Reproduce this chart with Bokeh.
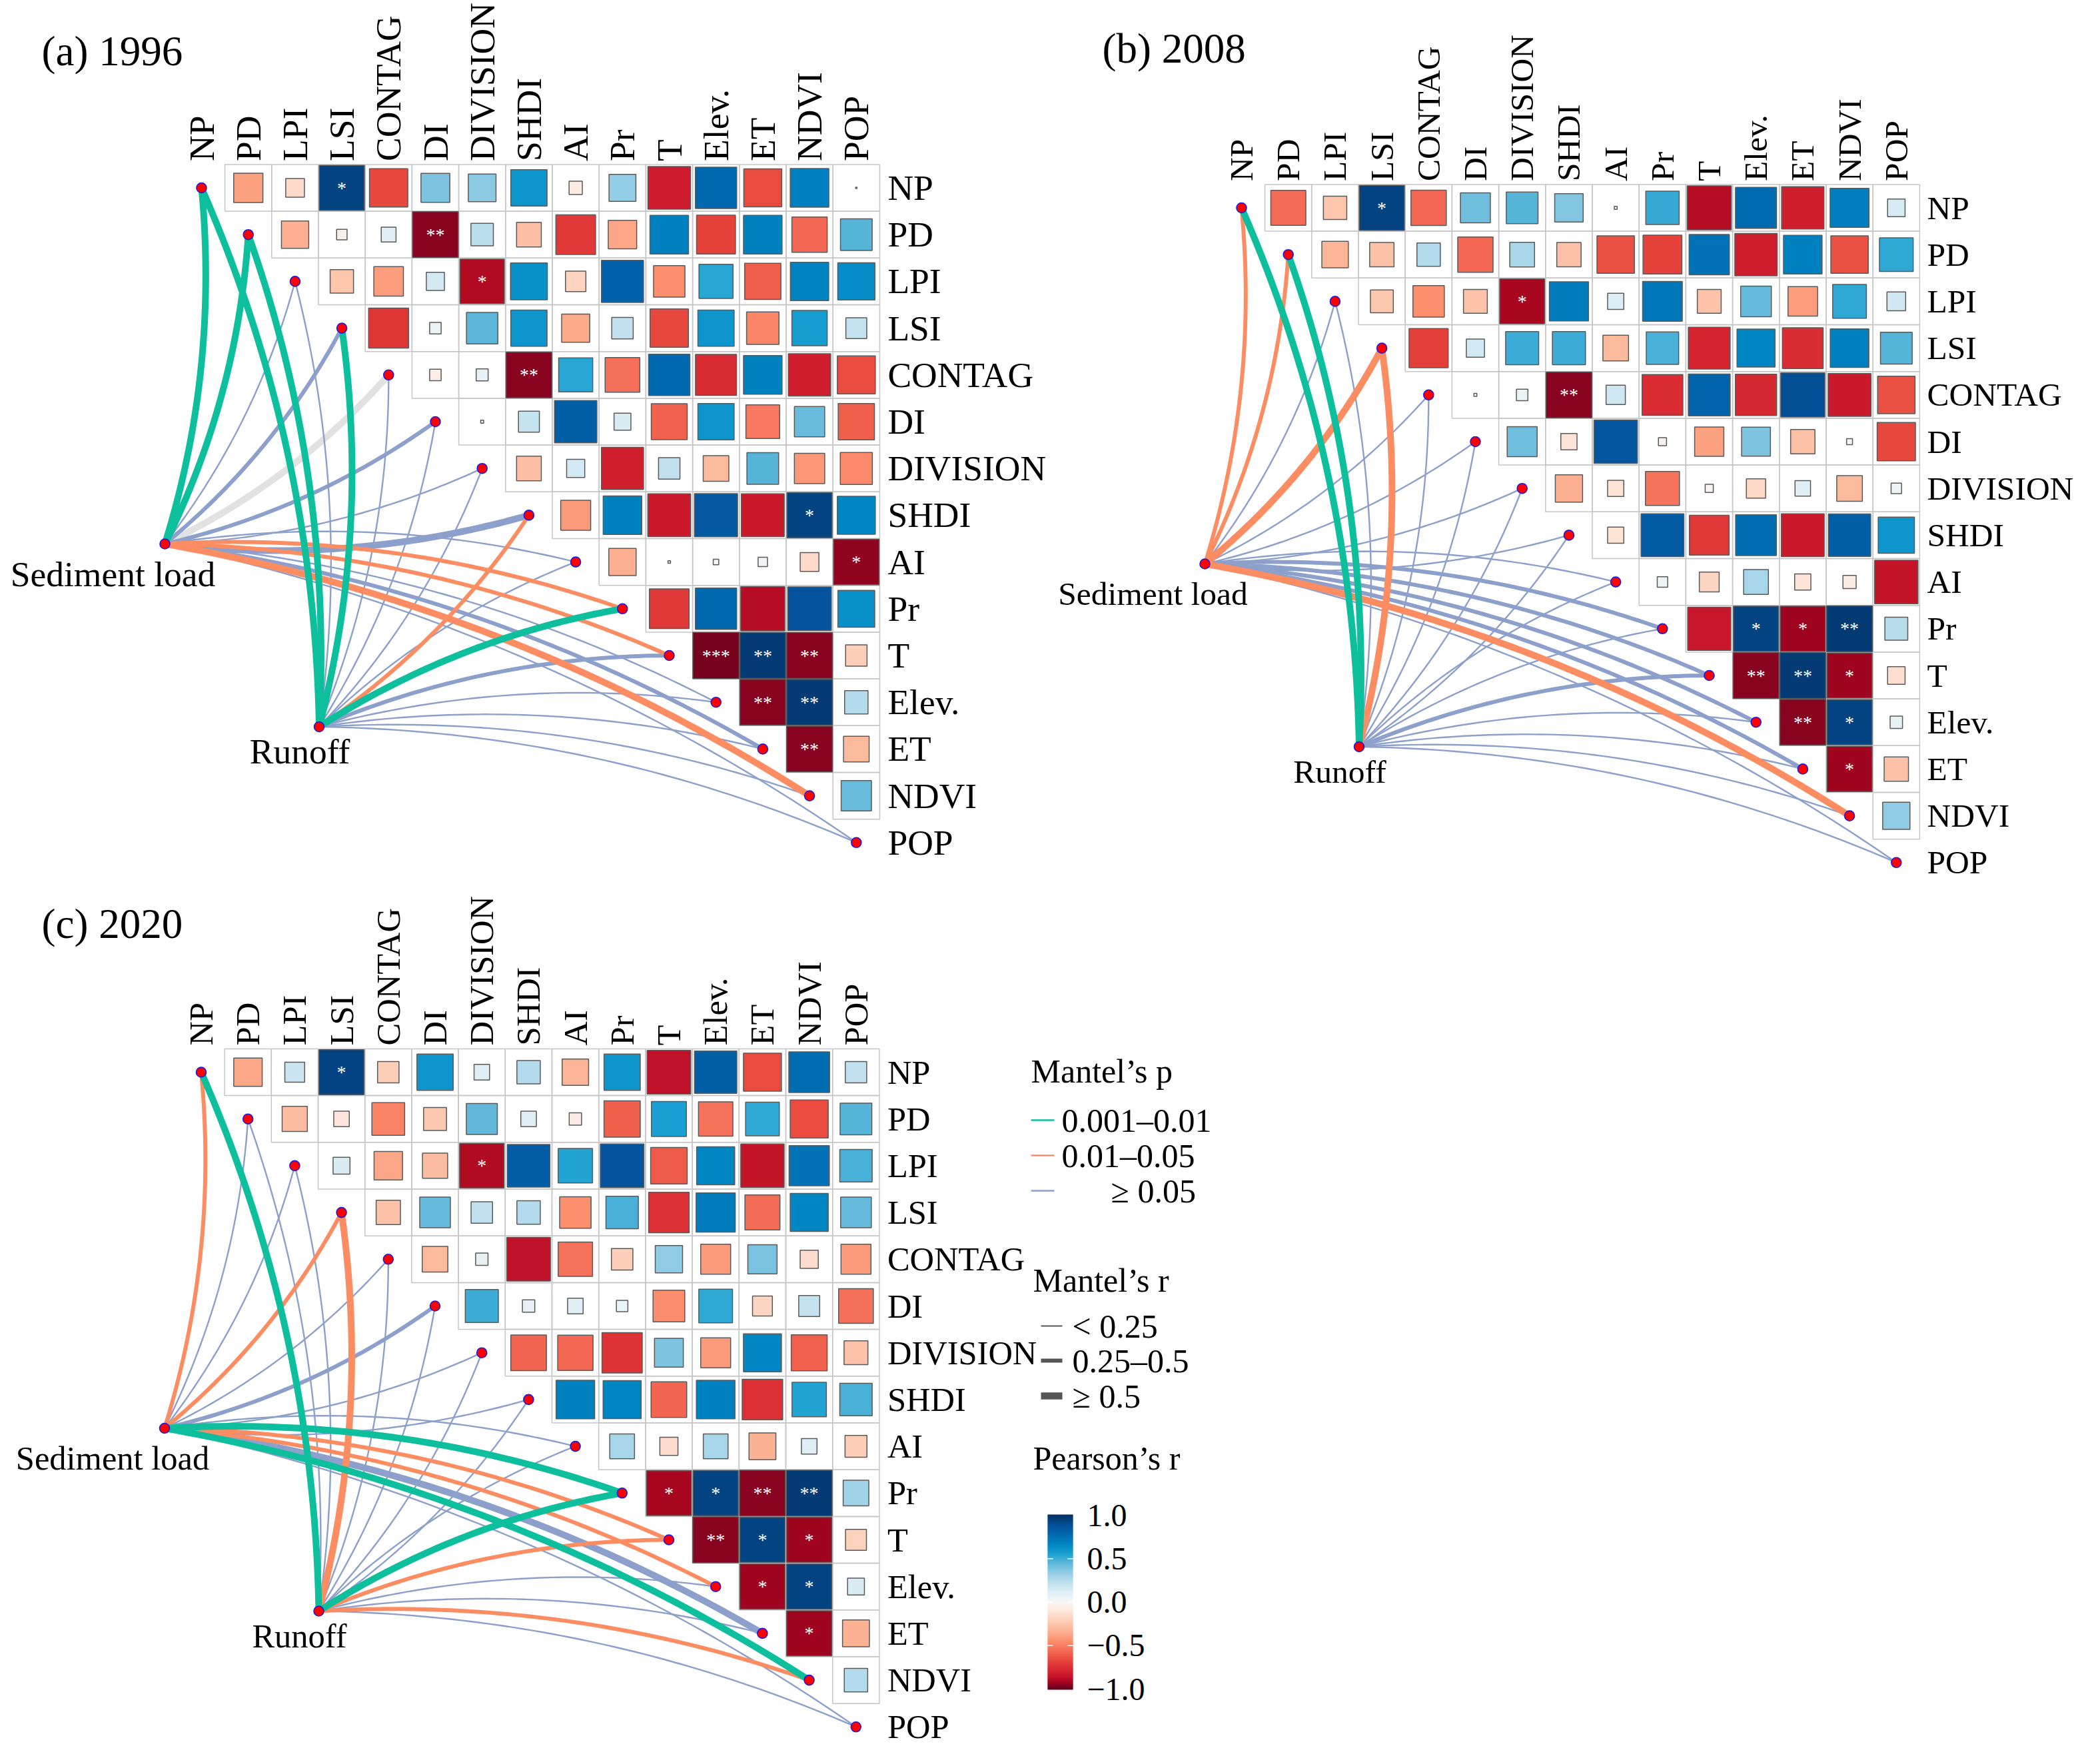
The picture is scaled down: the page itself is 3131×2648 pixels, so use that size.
import math
import numpy as np
from bokeh.plotting import figure
from bokeh.models import Range1d
from bokeh.core.properties import value
from bokeh.embed import file_html
from bokeh.resources import INLINE

# ---------------- data ----------------
variables = ["NP", "PD", "LPI", "LSI", "CONTAG", "DI", "DIVISION", "SHDI",
             "AI", "Pr", "T", "Elev.", "ET", "NDVI", "POP"]
panel_titles = ["(a) 1996", "(b) 2008", "(c) 2020"]
sources = ["Sediment load", "Runoff"]

# Pearson's r, upper triangle, row i holds columns i+1..14
r_1996 = [
    [-0.39, -0.16, 0.93, -0.67, 0.38, 0.35, 0.60, -0.08, 0.33, -0.83, 0.78, -0.66, 0.68, 0.001],
    [-0.34, -0.05, 0.10, -0.96, 0.23, -0.28, -0.72, -0.37, 0.68, -0.69, 0.68, -0.57, 0.46],
    [-0.25, -0.40, 0.15, -0.90, 0.62, -0.19, 0.81, -0.45, 0.53, -0.60, 0.67, 0.63],
    [-0.73, 0.06, 0.45, 0.60, -0.36, 0.21, -0.67, 0.60, -0.48, 0.57, 0.20],
    [-0.06, 0.065, -0.96, 0.53, -0.55, 0.78, -0.77, 0.68, -0.82, -0.66],
    [0.004, 0.20, 0.82, 0.13, -0.59, 0.60, -0.52, 0.42, -0.60],
    [-0.28, 0.15, -0.81, 0.21, -0.30, 0.46, -0.42, -0.47],
    [-0.41, 0.68, -0.84, 0.85, -0.84, 0.93, 0.66],
    [-0.34, -0.003, 0.014, 0.04, -0.16, -0.95],
    [-0.72, 0.78, -0.89, 0.87, 0.62],
    [-0.98, 0.96, -0.96, -0.21],
    [-0.96, 0.96, 0.25],
    [-0.96, -0.30],
    [0.42],
]
r_2008 = [
    [-0.56, -0.25, 0.93, -0.57, 0.41, 0.46, 0.37, 0.004, 0.51, -0.89, 0.77, -0.82, 0.69, 0.14],
    [-0.32, -0.27, 0.25, -0.57, 0.28, -0.27, -0.64, -0.69, 0.74, -0.82, 0.68, -0.64, 0.52],
    [-0.24, -0.45, -0.26, -0.92, 0.70, 0.12, 0.72, -0.26, 0.43, -0.40, 0.52, 0.16],
    [-0.70, 0.15, 0.50, 0.50, -0.30, 0.48, -0.80, 0.66, -0.76, 0.68, 0.46],
    [0.004, 0.06, -0.96, 0.17, -0.76, 0.80, -0.78, 0.89, -0.84, -0.64],
    [0.41, -0.12, 0.86, -0.03, -0.39, 0.38, -0.27, -0.016, -0.67],
    [-0.34, -0.12, -0.53, -0.03, -0.17, 0.11, -0.30, 0.05],
    [-0.12, 0.84, -0.72, 0.76, -0.84, 0.82, 0.60],
    [0.05, -0.18, 0.28, -0.12, -0.08, -0.86],
    [-0.85, 0.93, -0.93, 0.96, 0.24],
    [-0.96, 0.96, -0.93, -0.14],
    [-0.96, 0.93, 0.07],
    [-0.93, -0.27],
    [0.34],
]
r_2020 = [
    [-0.37, 0.18, 0.93, -0.21, 0.60, 0.11, 0.25, -0.32, 0.60, -0.87, 0.82, -0.66, 0.76, 0.21],
    [-0.29, -0.11, -0.49, -0.24, 0.44, 0.11, -0.07, -0.60, 0.56, -0.54, 0.52, -0.66, 0.46],
    [0.13, -0.37, -0.29, -0.90, 0.83, 0.54, 0.87, -0.61, 0.66, -0.86, 0.74, 0.48],
    [-0.27, 0.43, 0.21, 0.25, -0.45, 0.48, -0.75, 0.70, -0.56, 0.66, 0.43],
    [-0.30, 0.07, -0.87, -0.54, -0.21, 0.34, -0.41, 0.39, -0.15, -0.41],
    [0.50, 0.07, 0.11, 0.06, -0.46, 0.52, -0.18, 0.20, -0.55],
    [-0.58, -0.57, -0.74, 0.38, -0.41, 0.66, -0.59, -0.26],
    [0.68, 0.66, -0.58, 0.68, -0.75, 0.54, 0.48],
    [0.28, -0.15, 0.28, -0.33, 0.11, -0.22],
    [-0.92, 0.93, -0.96, 0.96, 0.30],
    [-0.96, 0.93, -0.93, -0.20],
    [-0.93, 0.93, 0.13],
    [-0.93, -0.33],
    [0.25],
]

stars_1996 = [("NP", "LSI", "*"), ("PD", "DI", "**"), ("LPI", "DIVISION", "*"),
              ("CONTAG", "SHDI", "**"), ("SHDI", "NDVI", "*"), ("AI", "POP", "*"),
              ("T", "Elev.", "***"), ("T", "ET", "**"), ("T", "NDVI", "**"),
              ("Elev.", "ET", "**"), ("Elev.", "NDVI", "**"), ("ET", "NDVI", "**")]
stars_2008 = [("NP", "LSI", "*"), ("LPI", "DIVISION", "*"), ("CONTAG", "SHDI", "**"),
              ("Pr", "Elev.", "*"), ("Pr", "ET", "*"), ("Pr", "NDVI", "**"),
              ("T", "Elev.", "**"), ("T", "ET", "**"), ("T", "NDVI", "*"),
              ("Elev.", "ET", "**"), ("Elev.", "NDVI", "*"), ("ET", "NDVI", "*")]
stars_2020 = [("NP", "LSI", "*"), ("LPI", "DIVISION", "*"), ("Pr", "T", "*"),
              ("Pr", "Elev.", "*"), ("Pr", "ET", "**"), ("Pr", "NDVI", "**"),
              ("T", "Elev.", "**"), ("T", "ET", "*"), ("T", "NDVI", "*"),
              ("Elev.", "ET", "*"), ("Elev.", "NDVI", "*"), ("ET", "NDVI", "*")]

# Mantel test classes: p -> G (0.001-0.01), O (0.01-0.05), B (>=0.05), N (NA); r -> 0,1,2
sed_p_1996 = ["G", "G", "B", "B", "N", "B", "B", "B", "B", "O", "O", "B", "B", "O", "B"]
sed_r_1996 = [2, 2, 0, 1, 2, 1, 0, 2, 0, 1, 1, 0, 1, 2, 0]
run_p_1996 = ["G", "G", "B", "G", "B", "B", "B", "O", "B", "G", "B", "B", "B", "B", "B"]
run_r_1996 = [2, 2, 0, 2, 0, 0, 0, 1, 0, 2, 1, 0, 0, 0, 0]

sed_p_2008 = ["O", "O", "B", "O", "B", "B", "B", "B", "B", "B", "B", "B", "B", "O", "B"]
sed_r_2008 = [1, 1, 0, 2, 0, 0, 0, 0, 0, 1, 1, 1, 1, 2, 0]
run_p_2008 = ["G", "G", "B", "O", "B", "B", "B", "B", "B", "B", "B", "B", "B", "B", "B"]
run_r_2008 = [2, 2, 0, 2, 0, 0, 0, 0, 0, 0, 1, 0, 0, 0, 0]

sed_p_2020 = ["O", "B", "B", "O", "B", "B", "B", "B", "B", "G", "O", "O", "B", "G", "B"]
sed_r_2020 = [1, 0, 0, 1, 0, 1, 0, 0, 0, 2, 1, 1, 2, 2, 0]
run_p_2020 = ["G", "B", "B", "O", "B", "B", "B", "B", "B", "G", "O", "B", "B", "O", "B"]
run_r_2020 = [2, 0, 0, 2, 0, 0, 0, 0, 0, 2, 1, 0, 0, 1, 0]

p_legend = [("G", "0.001–0.01"), ("O", "0.01–0.05"), ("B", "≥ 0.05")]
r_legend = ["< 0.25", "0.25–0.5", "≥ 0.5"]
cbar_ticks = [1.0, 0.5, 0.0, -0.5, -1.0]
cbar_labels = ["1.0", "0.5", "0.0", "−0.5", "−1.0"]

panels_r = [r_1996, r_2008, r_2020]
panels_stars = [stars_1996, stars_2008, stars_2020]
panels_p = [(sed_p_1996, run_p_1996), (sed_p_2008, run_p_2008), (sed_p_2020, run_p_2020)]
panels_rc = [(sed_r_1996, run_r_1996), (sed_r_2008, run_r_2008), (sed_r_2020, run_r_2020)]

# ---------------- style / layout ----------------
FONT = value("Liberation Serif")
P = 70.2
origins = [(310.0, 289.5), (1871.0, 319.5), (309.5, 1617.0)]
lab_fs = ["53.5px", "49.5px", "50.5px"]
right_gap = [12, 11, 12]
title_pos = [(70, 84), (1662, 80), (70, 1394)]
src_off = [(-55.0, 534.5), (176.5, 809.0)]
src_lab_off = [(-78.0, 45.0), (-29.0, 37.0)]
p_color = {"G": "#0DBF9D", "O": "#FC8D62", "B": "#8DA0CB", "N": "#E2E2E2"}
p_order = {"N": 0, "B": 1, "O": 2, "G": 3}
r_width = [2.4, 6.0, 10.0]

stops = [(-1.0, "#67001F"), (-0.92, "#A8061F"), (-0.85, "#C8162A"), (-0.75, "#DC3034"),
         (-0.65, "#EA4E40"), (-0.55, "#F66F58"), (-0.45, "#FC8F6E"), (-0.35, "#FCAE8E"),
         (-0.22, "#FDCDB6"), (-0.10, "#FDE8DE"), (0.0, "#F7F7F7"), (0.10, "#E2F0F6"),
         (0.22, "#BFE0EE"), (0.35, "#8CCAE4"), (0.45, "#5CB6DA"), (0.55, "#1CA2D2"),
         (0.65, "#0088C4"), (0.78, "#0068AE"), (0.88, "#04519A"), (1.0, "#053061")]


def hex2rgb(h):
    return [int(h[i:i + 2], 16) for i in (1, 3, 5)]


def rcolor(r):
    r = max(-1.0, min(1.0, r))
    for (a, ca), (b, cb) in zip(stops[:-1], stops[1:]):
        if a <= r <= b:
            t = (r - a) / (b - a) if b > a else 0
            c1, c2 = hex2rgb(ca), hex2rgb(cb)
            c = [round(c1[k] + (c2[k] - c1[k]) * t) for k in range(3)]
            return "#%02X%02X%02X" % tuple(c)
    return stops[-1][1]


fig = figure(width=3115, height=2632, x_range=Range1d(8, 3123), y_range=Range1d(-2640, -8),
             output_backend="svg", toolbar_location=None, min_border=0)
fig.axis.visible = False
fig.grid.visible = False
fig.outline_line_color = None
fig.background_fill_color = "white"
fig.border_fill_color = "white"

idx = {v: i for i, v in enumerate(variables)}
n = len(variables)

for k in range(3):
    ox, oy = origins[k]
    rows = panels_r[k]
    cx, cy, sides, cols = [], [], [], []
    for i in range(n - 1):
        for j in range(i + 1, n):
            r = rows[i][j - i - 1]
            cx.append(ox + j * P)
            cy.append(-(oy + i * P))
            sides.append(P * math.sqrt(abs(r)))
            cols.append(rcolor(r))
    fig.rect(cx, cy, width=P, height=P, fill_color=None, line_color="#C6C6C6", line_width=1.5)
    fig.rect(cx, cy, width=sides, height=sides, fill_color=cols, line_color="#5A5A5A", line_width=1.5)

    sx_, sy_, st_ = [], [], []
    for a, b, s in panels_stars[k]:
        i, j = idx[a], idx[b]
        sx_.append(ox + j * P)
        sy_.append(-(oy + i * P))
        st_.append(s)
    fig.text(sx_, sy_, text=st_, text_color="white", text_font=FONT, text_font_size="28px",
             text_align="center", text_baseline="middle")

    # column labels (top) and row labels (right)
    fig.text([ox + j * P for j in range(n)], [-(oy - P / 2 - 5)] * n, text=variables,
             angle=math.pi / 2, text_align="left", text_baseline="middle",
             text_font=FONT, text_font_size=lab_fs[k], text_color="black")
    fig.text([ox + (n - 0.5) * P + right_gap[k]] * n, [-(oy + i * P) for i in range(n)], text=variables,
             text_align="left", text_baseline="middle",
             text_font=FONT, text_font_size=lab_fs[k], text_color="black")

    # title
    fig.text([title_pos[k][0]], [-title_pos[k][1]], text=[panel_titles[k]], text_align="left",
             text_baseline="middle", text_font=FONT, text_font_size="63px", text_color="black")

    # Mantel links
    edges = []
    for si in range(2):
        sx = ox + src_off[si][0]
        sy = oy + src_off[si][1]
        pc = panels_p[k][si]
        rc = panels_rc[k][si]
        for j in range(n):
            tx, ty = ox + j * P, oy + j * P
            dx, dy = tx - sx, ty - sy
            L = math.hypot(dx, dy)
            nx, ny = -dy / L, dx / L
            sgn = 1 if j <= 7 else -1
            ccx = (sx + tx) / 2 + sgn * 0.1 * L * nx
            ccy = (sy + ty) / 2 + sgn * 0.1 * L * ny
            t = np.linspace(0, 1, 60)
            bx = (1 - t) ** 2 * sx + 2 * (1 - t) * t * ccx + t ** 2 * tx
            by = (1 - t) ** 2 * sy + 2 * (1 - t) * t * ccy + t ** 2 * ty
            edges.append((p_order[pc[j]], rc[j], list(bx), list(-by), p_color[pc[j]], r_width[rc[j]]))
    edges.sort(key=lambda e: (e[0], e[1]))
    fig.multi_line(xs=[e[2] for e in edges], ys=[e[3] for e in edges],
                   line_color=[e[4] for e in edges], line_width=[e[5] for e in edges],
                   line_join="round")

    # nodes
    dxs = [ox + j * P for j in range(n)] + [ox + src_off[0][0], ox + src_off[1][0]]
    dys = [-(oy + j * P) for j in range(n)] + [-(oy + src_off[0][1]), -(oy + src_off[1][1])]
    fig.scatter(dxs, dys, size=15, fill_color="#FF0000", line_color="#1A1AE6", line_width=1.6)

    # source labels
    for si in range(2):
        fig.text([ox + src_off[si][0] + src_lab_off[si][0]], [-(oy + src_off[si][1] + src_lab_off[si][1])],
                 text=[sources[si]], text_align="center", text_baseline="middle",
                 text_font=FONT, text_font_size=lab_fs[k], text_color="black")

# ---------------- legend ----------------
LFS = "50px"
fig.text([1555], [-1615], text=["Mantel’s p"], text_font=FONT, text_font_size=LFS,
         text_align="left", text_baseline="middle")
p_leg_y = [1689, 1742, 1795]
for (code, lab), yy in zip(p_legend, p_leg_y):
    fig.line([1555, 1590], [-yy, -yy], line_color=p_color[code], line_width=2.5)
    lx = 1675 if lab.startswith("≥") else 1601
    fig.text([lx], [-yy], text=[lab], text_font=FONT, text_font_size=LFS,
             text_align="left", text_baseline="middle")

fig.text([1558], [-1929], text=["Mantel’s r"], text_font=FONT, text_font_size=LFS,
         text_align="left", text_baseline="middle")
r_leg_y = [1998, 2050, 2103]
r_leg_w = [2.2, 6.0, 10.5]
for lab, yy, w in zip(r_legend, r_leg_y, r_leg_w):
    fig.line([1570, 1602], [-yy, -yy], line_color="#555555", line_width=w)
    fig.text([1617], [-yy], text=[lab], text_font=FONT, text_font_size=LFS,
             text_align="left", text_baseline="middle")

fig.text([1558], [-2196], text=["Pearson’s r"], text_font=FONT, text_font_size=LFS,
         text_align="left", text_baseline="middle")
cb_top, cb_bot, cb_l, cb_r = 2282.0, 2543.0, 1580.0, 1618.0
vals = np.linspace(1, -1, 200)
hstep = (cb_bot - cb_top) / 199
fig.rect([(cb_l + cb_r) / 2] * 200, [-(cb_top + (1 - v) / 2 * (cb_bot - cb_top)) for v in vals],
         width=cb_r - cb_l, height=hstep + 0.8, fill_color=[rcolor(v) for v in vals], line_color=None)
for v, lab in zip(cbar_ticks, cbar_labels):
    yy = cb_top + (1 - v) / 2 * (cb_bot - cb_top)
    if -1 < v < 1:
        fig.line([cb_l, cb_l + 8], [-yy, -yy], line_color="white", line_width=1.5)
        fig.line([cb_r - 8, cb_r], [-yy, -yy], line_color="white", line_width=1.5)
    fig.text([1639], [-yy], text=[lab], text_font=FONT, text_font_size="48px",
             text_align="left", text_baseline="middle")

open("out.html", "w").write(file_html(fig, INLINE))
